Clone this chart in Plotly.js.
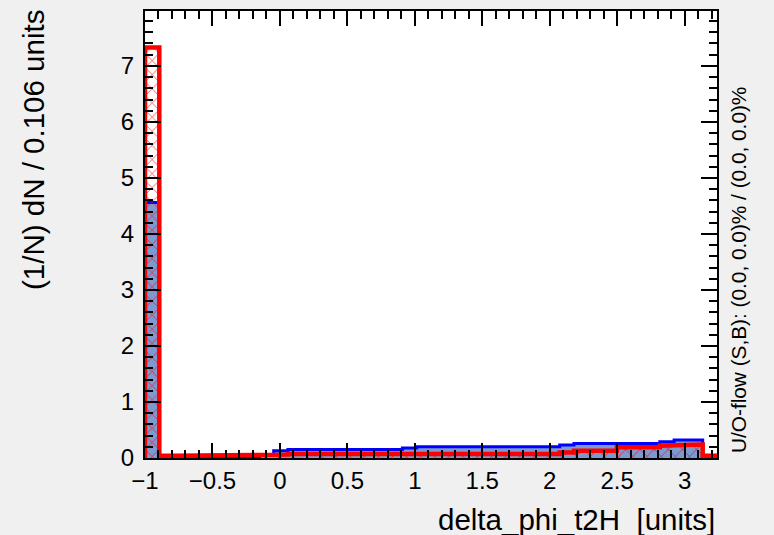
<!DOCTYPE html>
<html>
<head>
<meta charset="utf-8">
<script src="https://cdn.plot.ly/plotly-3.0.1.min.js"></script>
<style>html,body{margin:0;padding:0;background:#f0f0f0;}#plot{width:774px;height:535px;}</style>
</head>
<body>
<div id="plot"></div>
<script>
// Histogram binning
var xMin = -1.0;
var binWidth = 0.106;
// Signal (blue) normalised values per bin
var signalValues = [4.56, 0.01, 0.01, 0.01, 0.01, 0.01, 0.01, 0.01, 0.06, 0.13,
  0.15, 0.15, 0.15, 0.15, 0.15, 0.15, 0.15, 0.15, 0.18, 0.20,
  0.20, 0.20, 0.20, 0.20, 0.20, 0.20, 0.20, 0.20, 0.20, 0.23,
  0.26, 0.26, 0.26, 0.26, 0.26, 0.26, 0.29, 0.32, 0.32, 0.01];
// Background (red) normalised values per bin
var backgroundValues = [7.33, 0.04, 0.04, 0.04, 0.04, 0.04, 0.04, 0.04, 0.04, 0.06,
  0.07, 0.05, 0.07, 0.07, 0.07, 0.07, 0.07, 0.07, 0.07, 0.07,
  0.07, 0.07, 0.07, 0.07, 0.07, 0.07, 0.07, 0.07, 0.07, 0.10,
  0.13, 0.13, 0.13, 0.19, 0.19, 0.19, 0.22, 0.24, 0.24, 0.04];
var xTickStep = 0.5, xMinorStep = 0.1;
var yTickStep = 1, yMinorStep = 0.2;
var yMax = 7.98;

function stepOutline(vals) {
  var xs = [xMin], ys = [0];
  for (var i = 0; i < vals.length; i++) {
    var lo = xMin + i * binWidth, hi = xMin + (i + 1) * binWidth;
    xs.push(lo); ys.push(vals[i]);
    xs.push(hi); ys.push(vals[i]);
  }
  xs.push(xMin + vals.length * binWidth); ys.push(0);
  return {x: xs, y: ys};
}
var sig = stepOutline(signalValues);
var bkg = stepOutline(backgroundValues);
var xMax = xMin + signalValues.length * binWidth;

var traces = [
  {x: sig.x, y: sig.y, type: 'scatter', mode: 'lines', fill: 'tozeroy',
   fillcolor: '#7d99d1', line: {color: '#0000ff', width: 3, shape: 'linear'}, hoverinfo: 'skip'},
  {x: bkg.x, y: bkg.y, type: 'scatter', mode: 'lines', fill: 'tozeroy',
   fillcolor: 'rgba(0,0,0,0)',
   fillpattern: {shape: 'x', fgcolor: '#ff0000', bgcolor: 'rgba(0,0,0,0)', size: 10, solidity: 0.12},
   line: {color: '#ff0000', width: 4.5, shape: 'linear'}, hoverinfo: 'skip'},
  // invisible traces on overlay axes so that tick-only axes are drawn
  {x: [xMin], y: [0], xaxis: 'x2', yaxis: 'y2', type: 'scatter', mode: 'markers',
   marker: {opacity: 0}, hoverinfo: 'skip'},
  {x: [xMin], y: [0], xaxis: 'x3', yaxis: 'y3', type: 'scatter', mode: 'markers',
   marker: {opacity: 0}, hoverinfo: 'skip'}
];

var fontFam = 'Liberation Sans, Arial, Helvetica, sans-serif';
function labelAxis(range, t0, step) {
  return {
    range: range, tickmode: 'linear', tick0: t0, dtick: step,
    ticks: '', showline: true, linecolor: '#000', linewidth: 2, mirror: true,
    showgrid: false, zeroline: false,
    tickfont: {family: fontFam, size: 24, color: '#000'}
  };
}
function tickAxis(range, t0, step, len, overlay, anchor, side) {
  return {
    range: range, tickmode: 'linear', tick0: t0, dtick: step, overlaying: overlay,
    anchor: anchor, side: side,
    ticks: 'inside', ticklen: len, tickwidth: 2, tickcolor: '#000',
    showline: false, mirror: 'ticks', showticklabels: false,
    showgrid: false, zeroline: false
  };
}
var xa = labelAxis([xMin, xMax], -1, xTickStep);
xa.ticklabelstandoff = 0;
var ya = labelAxis([0, yMax], 0, yTickStep);
ya.ticklabelstandoff = 4;

var layout = {
  width: 774, height: 535,
  margin: {l: 145, r: 57, t: 11, b: 77, pad: 0},
  paper_bgcolor: '#f0f0f0', plot_bgcolor: '#ffffff',
  showlegend: false,
  font: {family: fontFam, color: '#000'},
  xaxis: xa, yaxis: ya,
  xaxis2: tickAxis([xMin, xMax], -1, xMinorStep, 8, 'x', 'y2', 'bottom'),
  yaxis2: tickAxis([0, yMax], 0, yMinorStep, 8, 'y', 'x2', 'left'),
  xaxis3: tickAxis([xMin, xMax], -1, xTickStep, 15, 'x', 'y3', 'bottom'),
  yaxis3: tickAxis([0, yMax], 0, yTickStep, 16, 'y', 'x3', 'left'),
  annotations: [
    {text: '(1/N) dN / 0.106 units', xref: 'paper', yref: 'paper',
     x: (34 - 145) / 572, y: (458 - 8) / 447, xanchor: 'center', yanchor: 'top',
     textangle: -90, showarrow: false, font: {family: fontFam, size: 29.5, color: '#000'}},
    {text: 'delta_phi_t2H  [units]', xref: 'paper', yref: 'paper',
     x: 1.0, y: (458 - 519) / 447, xanchor: 'right', yanchor: 'middle',
     showarrow: false, font: {family: fontFam, size: 29.5, color: '#000'}},
    {text: 'U/O-flow (S,B): (0.0, 0.0)% / (0.0, 0.0)%', xref: 'paper', yref: 'paper',
     x: (738 - 145) / 572, y: (458 - 455) / 447, xanchor: 'center', yanchor: 'bottom',
     textangle: -90, showarrow: false, font: {family: fontFam, size: 20.8, color: '#000'}}
  ]
};
Plotly.newPlot('plot', traces, layout, {staticPlot: true, displayModeBar: false});
</script>
</body>
</html>
